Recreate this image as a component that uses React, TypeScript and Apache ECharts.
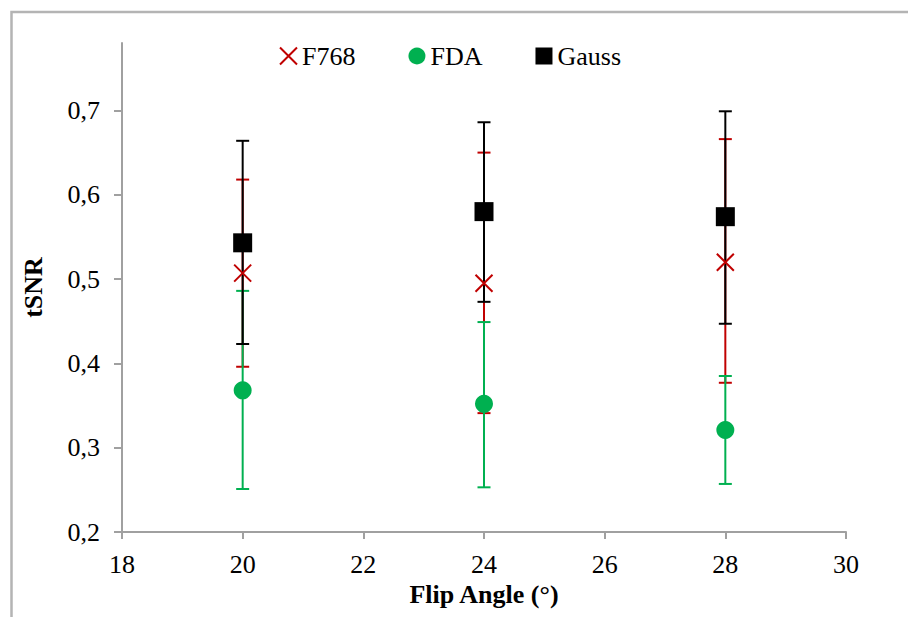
import React, { useEffect, useRef } from "react";
import * as echarts from "echarts";

const flipAngles = [20, 24, 28];
const f768Mean = [0.507, 0.495, 0.52];
const f768Low = [0.396, 0.341, 0.377];
const f768High = [0.618, 0.65, 0.666];
const fdaMean = [0.368, 0.352, 0.321];
const fdaLow = [0.251, 0.253, 0.257];
const fdaHigh = [0.486, 0.449, 0.385];
const gaussMean = [0.543, 0.58, 0.574];
const gaussLow = [0.423, 0.473, 0.447];
const gaussHigh = [0.664, 0.686, 0.699];
const yTicks = [0.2, 0.3, 0.4, 0.5, 0.6, 0.7];

const RED = "#C00000";
const GREEN = "#00B050";
const BLACK = "#000000";
const AXIS = "#A0A0A0";
const FONT = "'Liberation Serif', 'Times New Roman', serif";

function errSeries(name: string, low: number[], high: number[], color: string) {
  return {
    type: "custom",
    name: name + "-err",
    z: 2,
    silent: true,
    data: flipAngles.map((x, i) => [x, low[i], high[i]]),
    renderItem: (params: any, api: any) => {
      const x = api.value(0);
      const lo = api.coord([x, api.value(1)]);
      const hi = api.coord([x, api.value(2)]);
      const hw = 6.5;
      const style = { stroke: color, lineWidth: 2 };
      return {
        type: "group",
        children: [
          { type: "line", shape: { x1: lo[0], y1: lo[1], x2: hi[0], y2: hi[1] }, style },
          { type: "line", shape: { x1: hi[0] - hw, y1: hi[1], x2: hi[0] + hw, y2: hi[1] }, style },
          { type: "line", shape: { x1: lo[0] - hw, y1: lo[1], x2: lo[0] + hw, y2: lo[1] }, style },
        ],
      };
    },
  };
}

export default function App() {
  const ref = useRef<HTMLDivElement>(null);
  useEffect(() => {
    if (!ref.current) return;
    const chart = echarts.init(ref.current, undefined, { renderer: "svg" });
    const fmt = (v: number) => v.toFixed(1).replace(".", ",");
    chart.setOption({
      animation: false,
      backgroundColor: "#ffffff",
      textStyle: { fontFamily: FONT },
      graphic: [
        {
          type: "rect",
          shape: { x: 11.5, y: 12, width: 1200, height: 900 },
          style: { fill: "none", stroke: "#B4B4B4", lineWidth: 2.5 },
          z: 0,
        },
      ],
      legend: {
        left: 274,
        top: 38,
        itemWidth: 17,
        itemHeight: 17,
        itemGap: 53,
        textStyle: { fontFamily: FONT, fontSize: 26, color: "#000" },
        data: ["F768", "FDA", "Gauss"],
        selectedMode: false,
      },
      grid: { left: 122, right: 62, top: 43, bottom: 85, containLabel: false },
      xAxis: {
        type: "value",
        min: 18,
        max: 30,
        interval: 2,
        name: "Flip Angle (°)",
        nameLocation: "middle",
        nameGap: 46,
        nameTextStyle: { fontFamily: FONT, fontSize: 26, fontWeight: "bold", color: "#000" },
        axisLine: { show: true, lineStyle: { color: AXIS, width: 2 } },
        axisTick: { show: true, length: 7, lineStyle: { color: AXIS, width: 2 } },
        axisLabel: { fontFamily: FONT, fontSize: 26, color: "#000", margin: 19 },
        splitLine: { show: false },
      },
      yAxis: {
        type: "value",
        min: 0.2,
        max: 0.78,
        interval: 0.1,
        name: "tSNR",
        nameLocation: "middle",
        nameGap: 76,
        nameRotate: 90,
        nameTextStyle: { fontFamily: FONT, fontSize: 26, fontWeight: "bold", color: "#000" },
        axisLine: { show: true, lineStyle: { color: AXIS, width: 2 } },
        axisTick: { show: true, length: 8, customValues: yTicks, lineStyle: { color: AXIS, width: 2 } },
        axisLabel: {
          fontFamily: FONT,
          fontSize: 26,
          color: "#000",
          margin: 22,
          customValues: yTicks,
          formatter: (v: number) => fmt(v),
        },
        splitLine: { show: false },
      },
      series: [
        errSeries("F768", f768Low, f768High, RED),
        errSeries("FDA", fdaLow, fdaHigh, GREEN),
        errSeries("Gauss", gaussLow, gaussHigh, BLACK),
        {
          type: "scatter",
          name: "F768",
          z: 3,
          symbol: "path://M0 0L10 10M10 0L0 10",
          symbolSize: 17,
          itemStyle: { color: "rgba(0,0,0,0)", borderColor: RED, borderWidth: 2, opacity: 1 },
          data: flipAngles.map((x, i) => [x, f768Mean[i]]),
        },
        {
          type: "scatter",
          name: "FDA",
          z: 3,
          symbol: "circle",
          symbolSize: 18,
          itemStyle: { color: GREEN, opacity: 1 },
          data: flipAngles.map((x, i) => [x, fdaMean[i]]),
        },
        {
          type: "scatter",
          name: "Gauss",
          z: 3,
          symbol: "rect",
          symbolSize: 19,
          itemStyle: { color: BLACK, opacity: 1 },
          data: flipAngles.map((x, i) => [x, gaussMean[i]]),
        },
      ],
    });
    return () => chart.dispose();
  }, []);
  return (
    <div
      ref={ref}
      style={{ position: "fixed", left: 0, top: 0, width: 908, height: 617, background: "#fff" }}
    />
  );
}
